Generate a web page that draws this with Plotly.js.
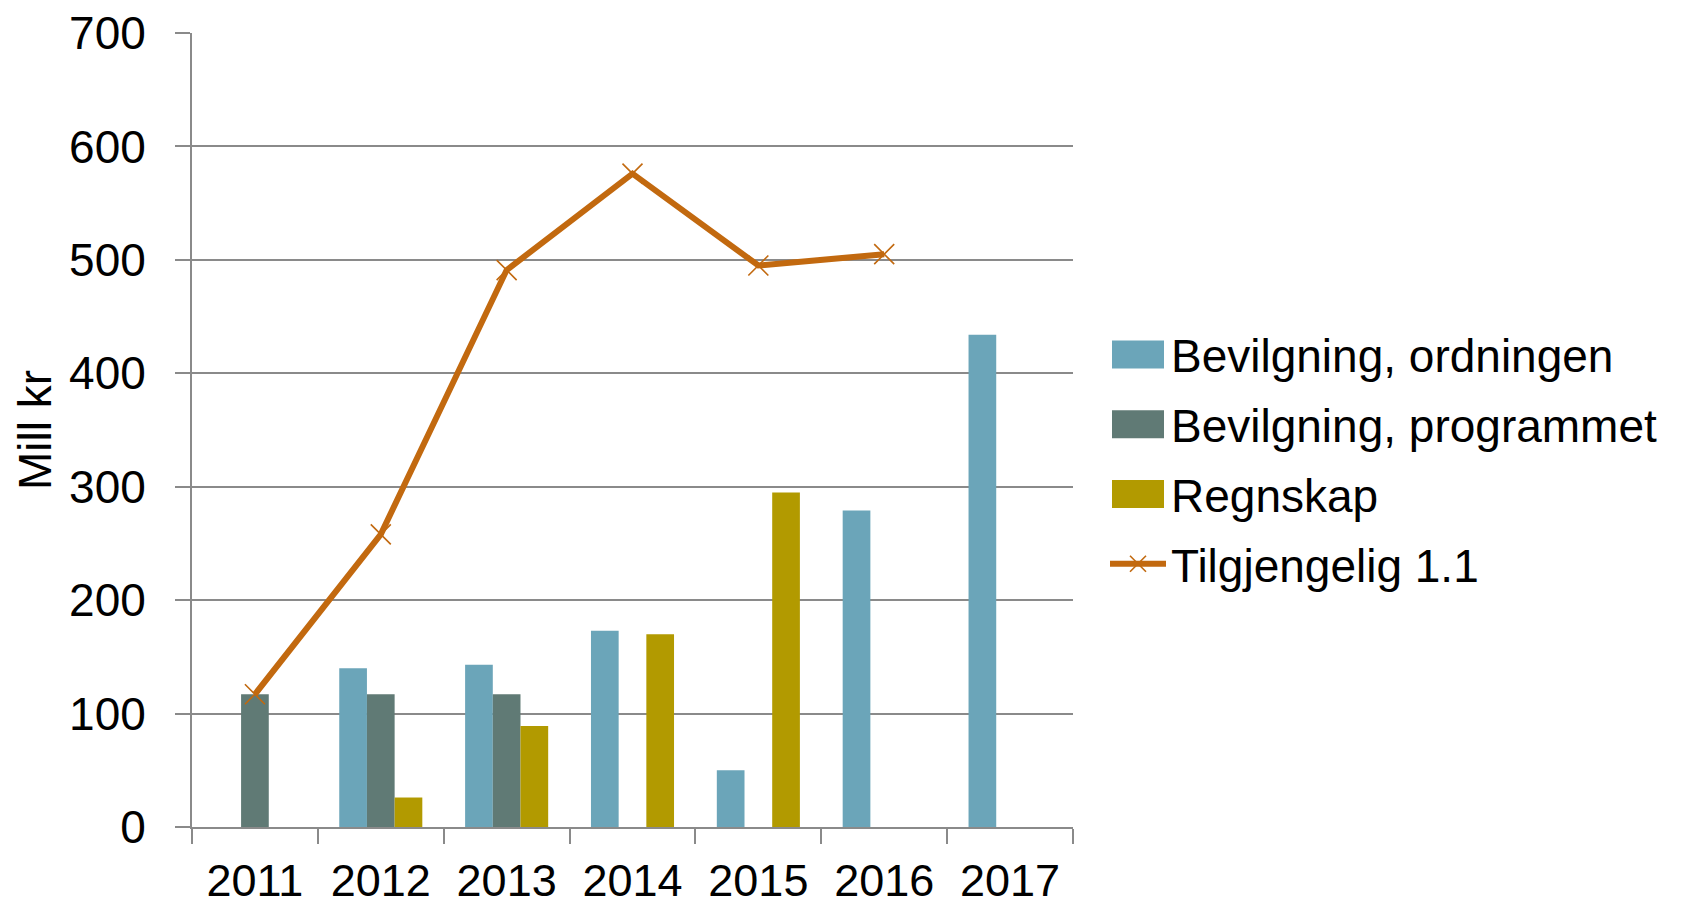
<!DOCTYPE html>
<html>
<head>
<meta charset="utf-8">
<script src="https://cdn.plot.ly/plotly-3.0.1.min.js"></script>
<style>
  html, body { margin: 0; padding: 0; background: #ffffff; }
  #chart { width: 1685px; height: 904px; }
  #chart .legend .legendpoints path.legendbar { d: path('M26,14H-26V-14H26Z'); }
</style>
</head>
<body>
<div id="chart"></div>
<script>
// ---- data ----
const years = ['2011', '2012', '2013', '2014', '2015', '2016', '2017'];
const ordningen = [null, 140, 143, 173, 50, 279, 434];
const programmet = [117, 117, 117, null, null, null, null];
const regnskap = [null, 26, 89, 170, 295, null, null];
const tilgjengelig = [117, 258, 491, 576, 495, 505, null];

const seriesNames = ['Bevilgning, ordningen', 'Bevilgning, programmet', 'Regnskap', 'Tilgjengelig 1.1'];
const yTicks = [0, 100, 200, 300, 400, 500, 600, 700];

const colOrd = '#6BA5B9';
const colProg = '#607A75';
const colReg = '#B29A00';
const colLine = '#C2690F';
const gridCol = '#8A8A8A';
const FONT = '"Liberation Sans", Arial, sans-serif';

const traces = [
  { type: 'bar', name: seriesNames[0], x: years, y: ordningen, legendgroup: 'a',
    marker: { color: colOrd, line: { width: 0 } } },
  { type: 'bar', name: seriesNames[1], x: years, y: programmet, legendgroup: 'b',
    marker: { color: colProg, line: { width: 0 } } },
  { type: 'bar', name: seriesNames[2], x: years, y: regnskap, legendgroup: 'c',
    marker: { color: colReg, line: { width: 0 } } },
  { type: 'scatter', mode: 'lines+markers', name: seriesNames[3], x: years, y: tilgjengelig, legendgroup: 'd',
    line: { color: colLine, width: 6 },
    marker: { symbol: 'x-thin-open', size: 20, color: colLine, line: { color: colLine, width: 1.6 } } }
];

const layout = {
  width: 1685, height: 904,
  paper_bgcolor: '#ffffff', plot_bgcolor: '#ffffff',
  margin: { l: 192, r: 612, t: 33, b: 77, pad: 0 },
  font: { family: FONT, size: 46, color: '#000000' },
  barmode: 'group', bargap: 0.34, bargroupgap: 0,
  showlegend: true,
  legend: {
    xref: 'container', yref: 'container',
    x: 1105 / 1685, xanchor: 'left',
    y: 1 - 318 / 904, yanchor: 'top',
    font: { family: FONT, size: 46, color: '#000000' },
    bgcolor: 'rgba(0,0,0,0)', borderwidth: 0,
    itemwidth: 56, tracegroupgap: 7, traceorder: 'grouped'
  },
  xaxis: {
    type: 'category', range: [-0.5, 6.5],
    tickson: 'boundaries', ticks: 'outside', ticklen: 15, tickwidth: 2, tickcolor: gridCol,
    showline: true, linecolor: gridCol, linewidth: 2,
    showgrid: false, zeroline: false,
    tickfont: { family: FONT, size: 45, color: '#000000' },
    ticklabelstandoff: 13,
    fixedrange: true
  },
  yaxis: {
    range: [0, 700], tickvals: yTicks, ticktext: yTicks.map(String),
    ticks: 'outside', ticklen: 15, tickwidth: 2, tickcolor: gridCol,
    showline: true, linecolor: gridCol, linewidth: 2,
    showgrid: true, gridcolor: gridCol, gridwidth: 2, zeroline: false,
    tickfont: { family: FONT, size: 46, color: '#000000' },
    ticklabelstandoff: 20,
    title: { text: 'Mill kr', font: { family: FONT, size: 46, color: '#000000' }, standoff: 3 },
    fixedrange: true
  }
};

function widenSwatches(gd) {
  gd.querySelectorAll('.legend .legendpoints path').forEach(function (p) {
    if (p.classList.contains('legendbar') || p.getAttribute('d') === 'M6,6H-6V-6H6Z') {
      p.setAttribute('d', 'M26,14H-26V-14H26Z');
    }
  });
}

const gdEl = document.getElementById('chart');
Plotly.newPlot(gdEl, traces, layout, { displayModeBar: false, staticPlot: true }).then(function (gd) {
  widenSwatches(gd);
  gd.on('plotly_afterplot', function () { widenSwatches(gd); });
  setTimeout(function () { widenSwatches(gd); }, 50);
});
</script>
</body>
</html>
